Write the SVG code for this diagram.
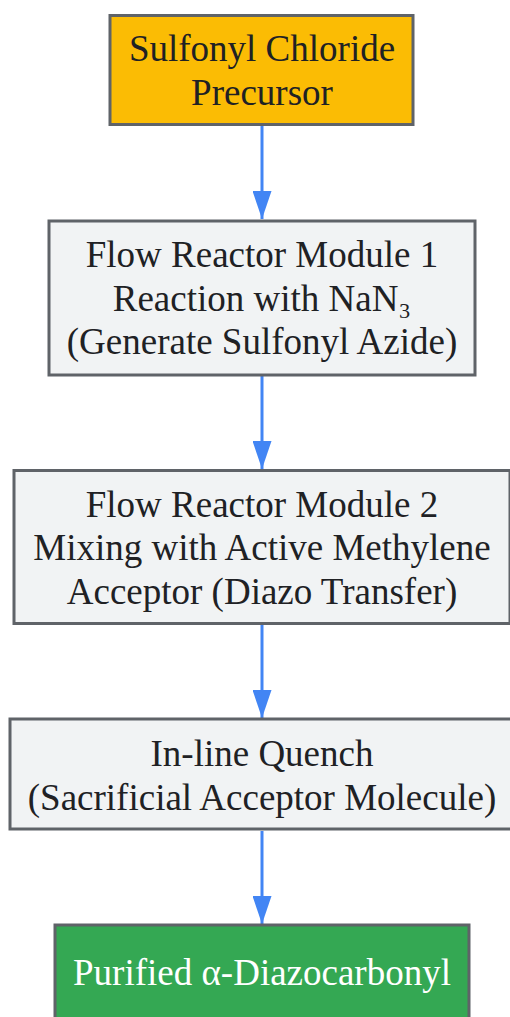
<svg xmlns="http://www.w3.org/2000/svg" width="510" height="1017" viewBox="0 0 510 1017">
<style>
.n{stroke:#5f6368;stroke-width:3}
.g{fill:#f1f3f4}
.t{font-family:"Liberation Serif","Times New Roman",serif;font-size:37px;fill:#202124;text-anchor:middle}
.w{fill:#ffffff}
.e{stroke:#4285f4;stroke-width:3;fill:none}
</style>
<defs>
<marker id="ah" markerWidth="28" markerHeight="19" refX="28" refY="9.5" orient="auto" markerUnits="userSpaceOnUse" viewBox="0 0 28 19">
<path d="M0,0 L28,9.5 L0,19 Z" fill="#4285f4"/>
</marker>
</defs>
<g id="connectors">
<line class="e" x1="262" y1="126" x2="262" y2="219" marker-end="url(#ah)"/>
<line class="e" x1="262" y1="376" x2="262" y2="469" marker-end="url(#ah)"/>
<line class="e" x1="262" y1="625" x2="262" y2="718" marker-end="url(#ah)"/>
<line class="e" x1="262" y1="831" x2="262" y2="924" marker-end="url(#ah)"/>
</g>
<g id="node1">
<rect class="n" x="110" y="15.5" width="303" height="109" fill="#fbbc04"/>
<text class="t" x="262" y="61">Sulfonyl Chloride</text>
<text class="t" x="262" y="105">Precursor</text>
</g>
<g id="node2">
<rect class="n g" x="49" y="221" width="426" height="154"/>
<text class="t" x="262" y="267">Flow Reactor Module 1</text>
<text class="t" x="262" y="311">Reaction with NaN₃</text>
<text class="t" x="262" y="354">(Generate Sulfonyl Azide)</text>
</g>
<g id="node3">
<rect class="n g" x="14" y="470.5" width="496" height="153"/>
<text class="t" x="262" y="517">Flow Reactor Module 2</text>
<text class="t" x="262" y="560">Mixing with Active Methylene</text>
<text class="t" x="262" y="604">Acceptor (Diazo Transfer)</text>
</g>
<g id="node4">
<rect class="n g" x="10" y="719" width="504" height="110"/>
<text class="t" x="262" y="766">In-line Quench</text>
<text class="t" x="262" y="810">(Sacrificial Acceptor Molecule)</text>
</g>
<g id="node5">
<rect class="n" x="55" y="925" width="414" height="110" fill="#34a853"/>
<text class="t w" x="262" y="985">Purified α-Diazocarbonyl</text>
</g>
</svg>
